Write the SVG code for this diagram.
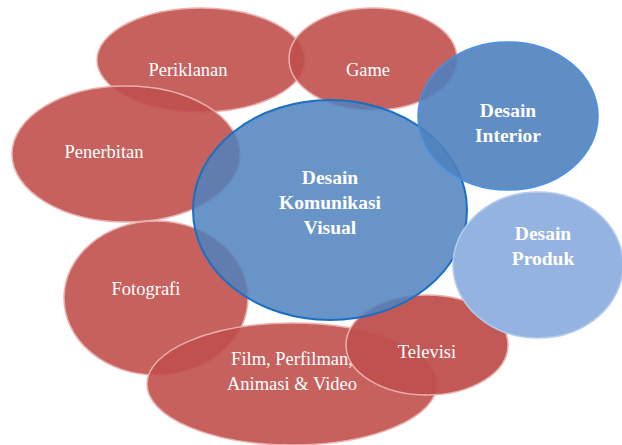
<svg xmlns="http://www.w3.org/2000/svg" width="622" height="445" viewBox="0 0 622 445">
<style>
.red{fill:#c0504d;fill-opacity:0.9;stroke:#eab0ae;stroke-width:1.5}
.t{font-family:"Liberation Serif","Times New Roman",serif;font-size:18.5px;fill:#ffffff;text-anchor:middle}
.b{font-weight:bold;font-size:19.5px}
</style>
<rect width="622" height="445" fill="#ffffff"/>
<g id="periklanan"><ellipse class="red" cx="201" cy="60" rx="104" ry="52"/><text class="t" x="188" y="76">Periklanan</text></g>
<g id="game"><ellipse class="red" cx="373" cy="59" rx="84" ry="51"/><text class="t" x="368" y="76">Game</text></g>
<g id="penerbitan"><ellipse class="red" cx="126" cy="154" rx="114" ry="68"/><text class="t" x="104" y="158">Penerbitan</text></g>
<g id="fotografi"><ellipse class="red" cx="156" cy="298" rx="92" ry="77"/><text class="t" x="146" y="295">Fotografi</text></g>
<g id="film"><ellipse class="red" cx="292" cy="384" rx="145" ry="61"/><text class="t"><tspan x="292" y="365">Film,  Perfilman,</tspan><tspan x="292" y="390">Animasi &amp; Video</tspan></text></g>
<g id="televisi"><ellipse cx="427" cy="345" rx="81" ry="50" fill="#c0504d" fill-opacity="0.95" stroke="#eab0ae" stroke-width="1.5"/><text class="t" x="427" y="358">Televisi</text></g>
<g id="dkv"><ellipse cx="330" cy="210" rx="137" ry="110" fill="#4f81bd" fill-opacity="0.85" stroke="#1a6fc4" stroke-width="2"/><text class="t b"><tspan x="330" y="184">Desain</tspan><tspan x="330" y="209">Komunikasi</tspan><tspan x="330" y="234">Visual</tspan></text></g>
<g id="interior"><ellipse cx="508" cy="116" rx="90" ry="74" fill="#4f81bd" fill-opacity="0.9" stroke="#4a90e0" stroke-width="1.5"/><text class="t b"><tspan x="508" y="117">Desain</tspan><tspan x="508" y="142">Interior</tspan></text></g>
<g id="produk"><ellipse cx="538" cy="265" rx="85" ry="73" fill="#95b3e0" stroke="#b4cbec" stroke-width="1.5"/><text class="t b"><tspan x="543" y="240">Desain</tspan><tspan x="543" y="265">Produk</tspan></text></g>
<g id="connectors"></g>
</svg>
